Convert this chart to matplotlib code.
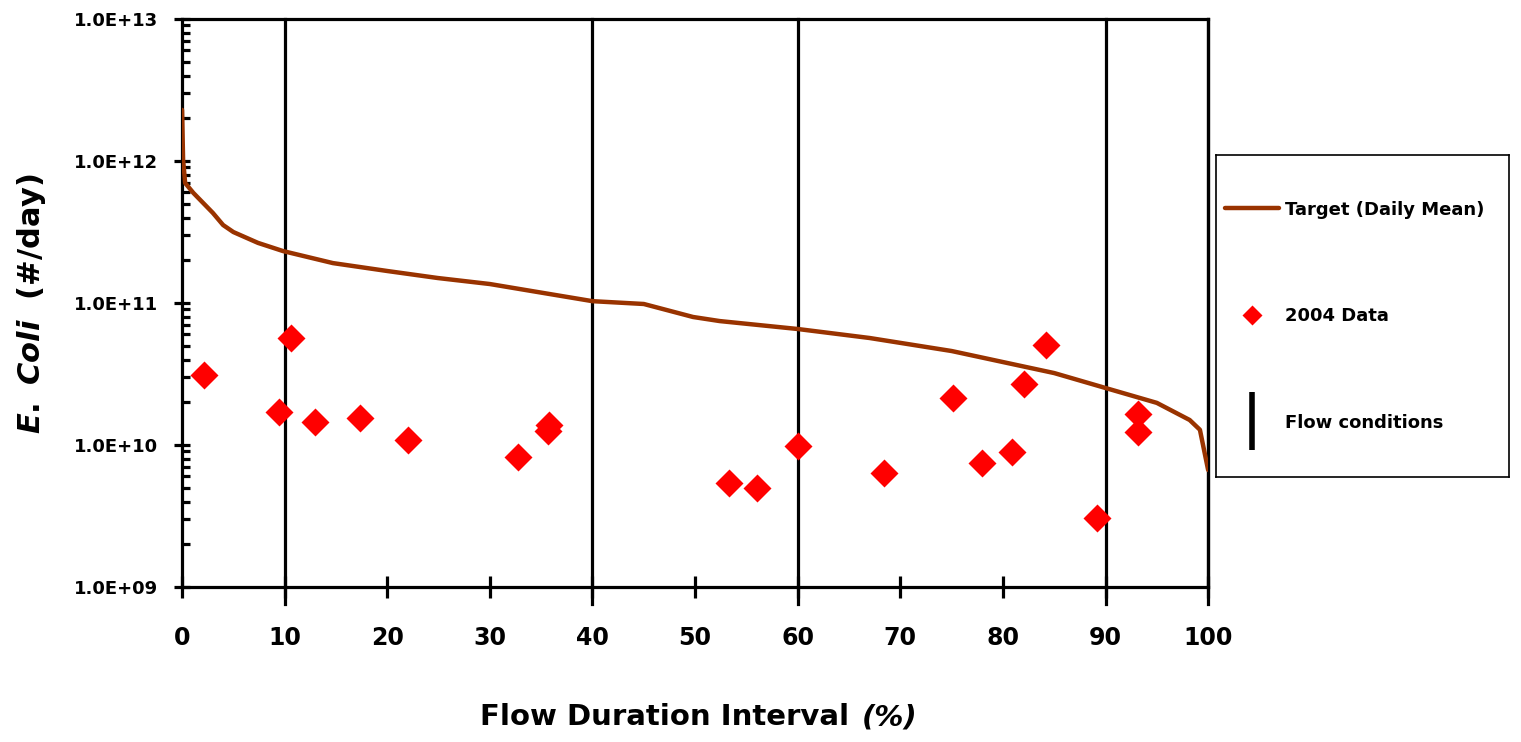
"""E. coli load duration curve with 2004 sample data."""

import math

import matplotlib

matplotlib.use("Agg")
import matplotlib.pyplot as plt
from matplotlib.lines import Line2D
from matplotlib.ticker import FixedLocator, FuncFormatter, LogLocator, NullFormatter

# target curve (daily mean)
target_x = [0, 0.1, 0.3, 1.1, 3.0, 4.0, 5.0, 7.4, 9.85, 14.7, 20.0, 24.9, 30.0,
            33.9, 40.0, 45.0, 49.8, 52.4, 60.0, 67.0, 75.0, 85.0, 90.0, 95.0,
            98.2, 99.2, 100.0]
target_y = [2.29e12, 1.02e12, 7.0e11, 5.96e11, 4.31e11, 3.54e11, 3.16e11,
            2.65e11, 2.32e11, 1.91e11, 1.68e11, 1.50e11, 1.36e11, 1.22e11,
            1.03e11, 9.84e10, 7.97e10, 7.46e10, 6.56e10, 5.67e10, 4.59e10,
            3.21e10, 2.52e10, 1.98e10, 1.50e10, 1.28e10, 6.67e9]

# 2004 samples
data_x = [2.1, 9.45, 10.6, 13.0, 17.35, 22.0, 32.75, 35.8, 35.7, 53.3, 56.0,
          60.0, 68.4, 75.1, 78.0, 80.9, 82.1, 84.2, 89.2, 93.2, 93.2]
data_y = [3.11e10, 1.71e10, 5.67e10, 1.45e10, 1.55e10, 1.08e10, 8.2e9, 1.38e10,
          1.26e10, 5.4e9, 5.0e9, 9.8e9, 6.35e9, 2.14e10, 7.5e9, 8.9e9, 2.69e10,
          5.06e10, 3.06e9, 1.65e10, 1.23e10]

# flow condition boundaries
flow_breaks = [10, 40, 60, 90]

x_ticks = list(range(0, 101, 10))

plt.rcParams["font.family"] = ["DejaVu Sans"]
plt.rcParams["font.weight"] = "bold"
plt.rcParams["mathtext.fontset"] = "custom"
plt.rcParams["mathtext.rm"] = "DejaVu Sans:bold"
plt.rcParams["mathtext.it"] = "DejaVu Sans:italic:bold"
plt.rcParams["mathtext.bf"] = "DejaVu Sans:bold"

fig = plt.figure(figsize=(15.21, 7.42), dpi=100)
ax = fig.add_axes([0.1197, 0.2089, 0.6746, 0.7655])

ax.set_yscale("log")
ax.set_xlim(0, 100)
ax.set_ylim(1e9, 1e13)

for xb in flow_breaks + [100]:
    ax.axvline(xb, ymin=-0.03, ymax=1, color="black", lw=2.3, clip_on=False,
               zorder=1)

ax.plot(target_x, target_y, color="#993300", lw=3.2, solid_capstyle="round",
        zorder=3)
ax.plot(data_x, data_y, "D", color="red", ms=14, mec="none", zorder=4)

for side in ("left", "bottom", "top", "right"):
    ax.spines[side].set_linewidth(2.3)

ax.xaxis.set_major_locator(FixedLocator(x_ticks))
ax.yaxis.set_major_locator(LogLocator(base=10, numticks=10))
ax.yaxis.set_minor_locator(LogLocator(base=10, subs=range(2, 10), numticks=50))
ax.yaxis.set_minor_formatter(NullFormatter())
ax.yaxis.set_major_formatter(FuncFormatter(lambda v, p: "1.0E+%02d" % round(math.log10(v))))

ax.tick_params(axis="x", which="major", direction="inout", length=16, width=2.3,
               pad=20, labelsize=17)
ax.tick_params(axis="y", which="major", direction="inout", length=12, width=2.3,
               pad=11, labelsize=13)
ax.tick_params(axis="y", which="minor", direction="in", length=6, width=2.3)
ax.tick_params(top=False, right=False)

# x label: upright words, italic "(%)" right after them
ax.set_xlabel("Flow Duration Interval", fontsize=21, fontweight="bold")
ax.xaxis.set_label_coords(0.47, -0.205)
ax.xaxis.label.set_va("top")
ax.annotate("(%)", xy=(1, 0), xycoords=ax.xaxis.label, xytext=(9, 0),
            textcoords="offset points", ha="left", va="bottom", fontsize=21,
            fontweight="bold", style="italic")
ax.set_ylabel(r"$\mathit{E.\ Coli}$  (#/day)", fontsize=22,
              fontweight="bold", labelpad=19)

# legend sits in its own framed box
lax = fig.add_axes([0.7995, 0.357, 0.1925, 0.434])
lax.set_xticks([])
lax.set_yticks([])
for s in lax.spines.values():
    s.set_linewidth(1.2)

handles = [
    Line2D([], [], color="#993300", lw=3.2, solid_capstyle="round"),
    Line2D([], [], ls="none", marker="D", color="red", ms=10, mec="none"),
    Line2D([], [], ls="none", marker="|", color="black", ms=42, mew=4),
]
labels = ["Target (Daily Mean)", "2004 Data", "Flow conditions"]
leg = lax.legend(handles, labels, loc="center left", frameon=False, fontsize=13,
                 handlelength=3.0, handletextpad=0.3, labelspacing=4.9,
                 borderpad=0, borderaxespad=0.5)
for t in leg.get_texts():
    t.set_fontweight("bold")

fig.savefig("out.png", dpi=100)
